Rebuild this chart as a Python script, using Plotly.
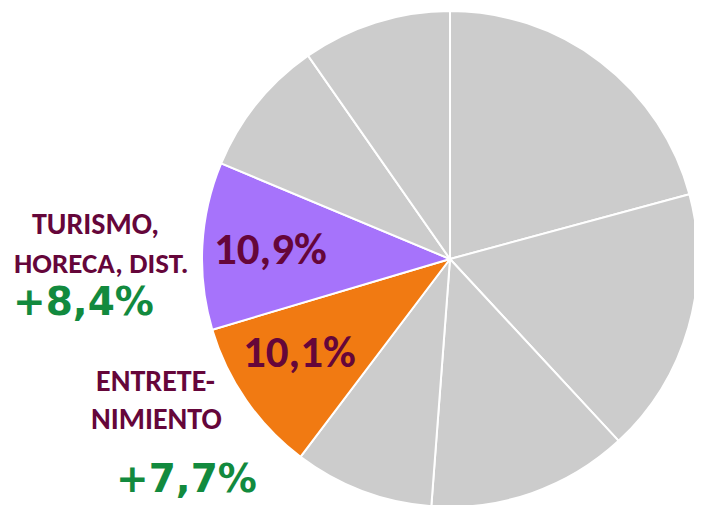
import plotly.graph_objects as go

# sector shares (%), clockwise from 12 o'clock
sectors = ['S1', 'S2', 'S3', 'S4', 'ENTRETENIMIENTO', 'TURISMO, HORECA, DIST.', 'S7', 'S8']
shares = [20.8, 17.3, 13.1, 9.1, 10.1, 10.9, 9.0, 9.7]
colors = ['#cccccc', '#cccccc', '#cccccc', '#cccccc', '#f17a12', '#a673fb', '#cccccc', '#cccccc']

# highlighted sectors: name lines and growth
hl_lines = [['TURISMO,', 'HORECA, DIST.'], ['ENTRETE-', 'NIMIENTO']]
hl_growth = ['+8,4%', '+7,7%']

MAROON = '#65063a'
GREEN = '#128a3e'
FONT = 'Carlito, Lato, sans-serif'
GFONT = 'DejaVu Sans, Verdana, sans-serif'

W, H = 702, 505
OFF = 8  # page body margin


def fmt(v):
    return f'{v:.1f}'.replace('.', ',') + '%'


fig = go.Figure()
fig.add_trace(go.Pie(
    labels=sectors,
    values=shares,
    sort=False,
    direction='clockwise',
    rotation=0,
    marker=dict(colors=colors, line=dict(color='white', width=2)),
    textinfo='none',
    hoverinfo='label+percent',
    domain=dict(x=[194 / W, 690 / W], y=[5 / H, 503 / H]),
    showlegend=False,
))

lab = dict(size=30, color=MAROON, family=FONT, weight=700)
pct = dict(size=45, color=MAROON, family=FONT, weight=700)
grw = dict(size=39, color=GREEN, family=GFONT, weight=700)

# in-slice percentages
fig.add_annotation(x=270, y=248, text=fmt(shares[5]), font=pct)
fig.add_annotation(x=299, y=351, text=fmt(shares[4]), font=pct)

# outside labels
fig.add_annotation(x=95, y=224, text=hl_lines[0][0], font=lab)
fig.add_annotation(x=101, y=263, text=hl_lines[0][1], font=dict(lab, size=29))
fig.add_annotation(x=83, y=301, text=hl_growth[0], font=grw)
fig.add_annotation(x=155, y=380, text=hl_lines[1][0], font=lab)
fig.add_annotation(x=156, y=418, text=hl_lines[1][1], font=lab)
fig.add_annotation(x=186, y=478, text=hl_growth[1], font=grw)

for a in fig.layout.annotations:
    a.update(xref='paper', yref='paper', showarrow=False, xanchor='center', yanchor='middle')
    a.x = (a.x - OFF) / W
    a.y = 1 - (a.y - OFF) / H

fig.update_layout(
    width=W, height=H,
    margin=dict(l=0, r=0, t=0, b=0),
    paper_bgcolor='white',
    plot_bgcolor='white',
)

fig.write_html('out.html')
